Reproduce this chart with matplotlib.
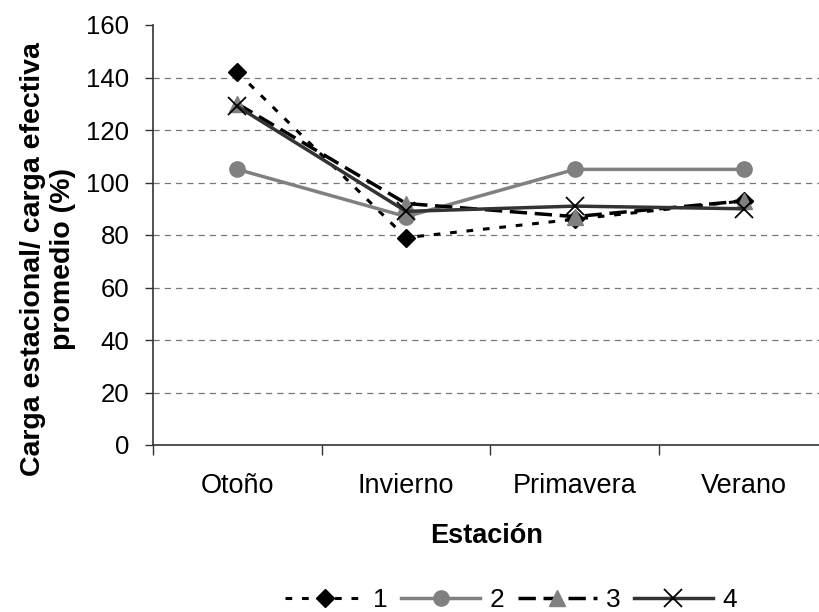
import matplotlib.pyplot as plt

plt.rcParams['font.family'] = ['Liberation Sans', 'DejaVu Sans']

estaciones = ['Otoño', 'Invierno', 'Primavera', 'Verano']
serie_1 = [142, 79, 86, 93]
serie_2 = [105, 87, 105, 105]
serie_3 = [130, 92, 87, 93]
serie_4 = [129, 89, 91, 90]
nombres = ['1', '2', '3', '4']
yticks = [0, 20, 40, 60, 80, 100, 120, 140, 160]

fig = plt.figure(figsize=(8.2, 6.12), dpi=100)
# el área de trazado sobresale un poco por la derecha
ax = fig.add_axes([153 / 820, 1 - 445 / 612, 675 / 820, 420 / 612])

x = range(len(estaciones))
estilos = [
    dict(color='black', lw=2.2, dashes=(2.2, 3.2), marker='D', ms=9.5,
         mfc='black', mec='black'),
    dict(color='#808080', lw=2.5, ls='-', marker='o', ms=11,
         mfc='#808080', mec='#808080'),
    dict(color='black', lw=2.5, dashes=(5, 2.2), marker='^', ms=12,
         mfc='#808080', mec='#808080'),
    dict(color='#333333', lw=2.5, ls='-', marker='x', ms=13,
         mfc='black', mec='black', mew=1.3),
]

series = [serie_1, serie_2, serie_3, serie_4]
for i, (vals, st) in enumerate(zip(series, estilos)):
    ax.plot(x, vals, label=nombres[i], zorder=3 + i, **st)

ax.set_xlim(-0.5, len(estaciones) - 0.5)
ax.set_ylim(0, 160)
ax.set_yticks(yticks)
ax.set_xticks(list(x))
ax.set_xticklabels(estaciones)
ax.set_xticks([i - 0.5 for i in range(len(estaciones) + 1)], minor=True)
ax.tick_params(axis='x', which='major', length=0, pad=20, labelsize=19.5)
ax.tick_params(axis='x', which='minor', length=7, width=1, color='#333333')
ax.tick_params(axis='y', length=6, width=1, color='#333333', labelsize=18.5, pad=11)

for yv in yticks[1:-1]:
    ax.axhline(yv, color='#777777', lw=0.9, dashes=(5, 4), zorder=1)

for s in ['top', 'right']:
    ax.spines[s].set_visible(False)
for s in ['left', 'bottom']:
    ax.spines[s].set_color('#333333')
    ax.spines[s].set_linewidth(1.2)

ax.set_xlabel('Estación', fontsize=19.5, fontweight='bold')
ax.xaxis.set_label_coords((487 - 153) / 675, (445 - 523) / 420)
ax.set_ylabel('Carga estacional/ carga efectiva\npromedio (%)', fontsize=20.5,
              fontweight='bold', linespacing=1.2)
ax.yaxis.set_label_coords((76 - 153) / 675, (445 - 259) / 420)

handles, labels = ax.get_legend_handles_labels()
fig.legend(handles, labels, loc='center', bbox_to_anchor=(511 / 820, 1 - 600 / 612),
           ncol=4, frameon=False, fontsize=19, handlelength=3.0,
           handletextpad=0.35, columnspacing=0.5, borderaxespad=0)

fig.savefig('out.png', dpi=100)
